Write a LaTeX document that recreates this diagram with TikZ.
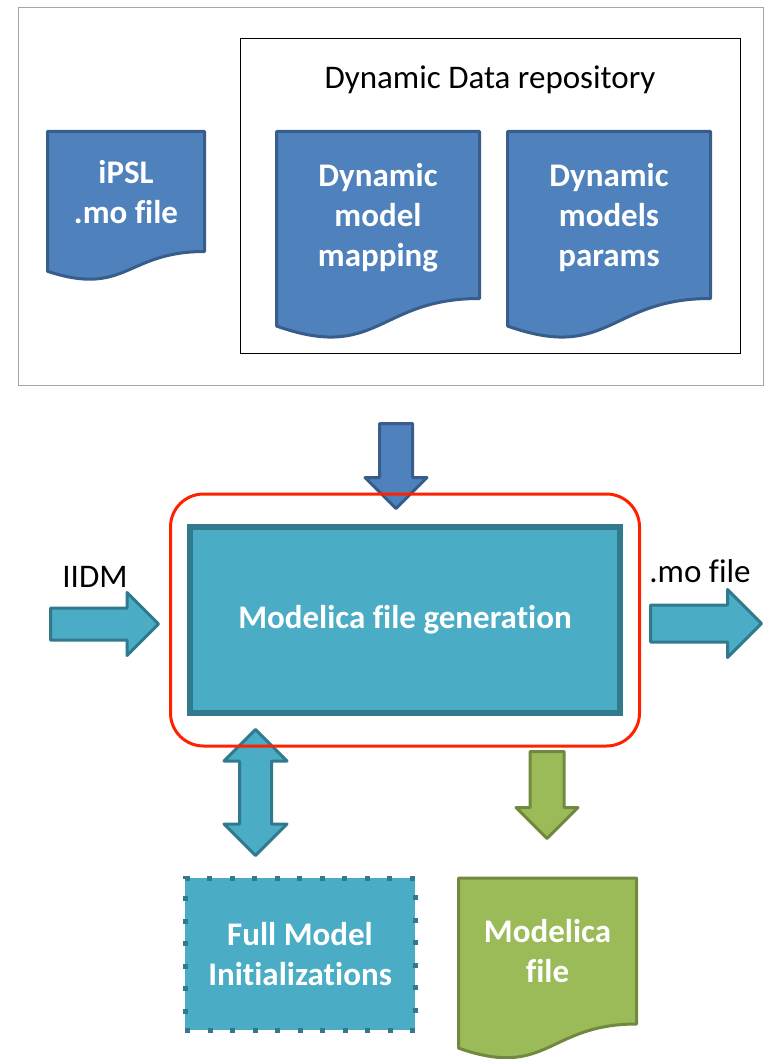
\documentclass[tikz,border=0pt]{standalone}
\usepackage{fontspec}
\setmainfont[Ligatures=NoCommon]{Carlito}
\usetikzlibrary{shapes.arrows,positioning,calc,fit,backgrounds}
\definecolor{DocBlue}{HTML}{4F81BD}
\definecolor{DocBlueDark}{HTML}{385D8A}
\definecolor{GenTeal}{HTML}{4BACC6}
\definecolor{GenTealDark}{HTML}{31798D}
\definecolor{OutGreen}{HTML}{9BBB59}
\definecolor{OutGreenDark}{HTML}{71893F}
\definecolor{FrameRed}{HTML}{FF2200}
\definecolor{FrameGray}{HTML}{A6A6A6}

% wavy bottom of a document shape, drawn round a node
\newcommand{\docoutline}[2]{%
  \draw[#2] (#1.north west) -- (#1.north east) -- (#1.south east)
    .. controls (#1.south) and ($(#1.south)!-0.38!(#1.north)$)
    .. ($(#1.south west)!-0.165!(#1.north west)$) -- cycle;}

\begin{document}
\begin{tikzpicture}[x=1pt, y=-1pt,
    txt/.style={font=\fontsize{33}{40}\selectfont, align=center, inner sep=0pt},
    doc/.style={rectangle, inner sep=0pt, outer sep=0pt, text depth=0pt, align=center, text=white, font=\fontsize{33}{40}\selectfont\bfseries},
    bluedoc/.style={fill=DocBlue, draw=DocBlueDark, line width=3pt, line join=round},
    greendoc/.style={fill=OutGreen, draw=OutGreenDark, line width=3pt, line join=round},
    genbox/.style={rectangle, draw=GenTealDark, fill=GenTeal, line width=6pt, outer sep=0pt, align=center, text=white, font=\fontsize{33}{40}\selectfont\bfseries},
    initbox/.style={rectangle, draw=GenTealDark, fill=GenTeal, line width=5pt, dash pattern=on 5pt off 17.5pt, outer sep=0pt, align=center, text=white, font=\fontsize{33}{40}\selectfont\bfseries},
    fatarrow/.style={single arrow, anchor=tail, inner xsep=0pt, outer sep=0pt, line width=3pt, line join=round},
    fatdarrow/.style={double arrow, inner xsep=0pt, outer sep=0pt, line width=3pt, line join=round},
    bluearrow/.style={fill=DocBlue, draw=DocBlueDark},
    tealarrow/.style={fill=GenTeal, draw=GenTealDark},
    greenarrow/.style={fill=OutGreen, draw=OutGreenDark},
    redframe/.style={rectangle, draw=FrameRed, line width=3pt, rounded corners=33pt}
  ]
    \useasboundingbox (0,0) rectangle (767,1059);

    % input files
    \node[draw=FrameGray, line width=1.5pt, outer sep=0pt, minimum width=745, minimum height=378] (inputs) at (391,196.5) {};
    \node[draw=black, line width=1.5pt, outer sep=0pt, minimum width=500, minimum height=315] (repo) at (490.5,196) {};
    \node[txt] (repotitle) at (490,80) {Dynamic Data repository};
    \node[doc, minimum width=157, minimum height=120] (ipsl) at (126,191.5) {iPSL\\.mo file};
    \node[doc, minimum width=203, minimum height=167] (mapping) at (378,215) {Dynamic\\model\\mapping};
    \node[doc, minimum width=203, minimum height=167, right=28pt of mapping] (params) {Dynamic\\models\\params};
    \begin{scope}[on background layer]
      \docoutline{ipsl}{bluedoc}
      \docoutline{mapping}{bluedoc}
      \docoutline{params}{bluedoc}
    \end{scope}

    % generation step
    \node[genbox, minimum width=430, minimum height=186] (gen) at (405,620) {Modelica file generation};
    \node[fatarrow, bluearrow, rotate=-90, inner ysep=15pt, single arrow head extend=14.5pt, minimum width=59, minimum height=85] (repoarrow) at (396,423.5) {};
    \node[fatarrow, tealarrow, inner ysep=14.5pt, single arrow head extend=15.5pt, minimum width=60, minimum height=108] (iidmarrow) at (50.5,624) {};
    \node[fatarrow, tealarrow, inner ysep=17pt, single arrow head extend=15.5pt, minimum width=65, minimum height=111] (moarrow) at (650.5,623.5) {};
    \node[txt] (iidm) at (95,577) {IIDM};
    \node[txt] (mo) at (700,571) {.mo file};

    % outputs
    \node[fatdarrow, tealarrow, rotate=90, inner ysep=14.5pt, double arrow head extend=15.5pt, minimum width=60, minimum height=126] (initarrow) at (255.5,792.5) {};
    \node[fatarrow, greenarrow, rotate=-90, inner ysep=15.5pt, single arrow head extend=14pt, minimum width=59, minimum height=87] (outarrow) at (547,751.5) {};
    \node[initbox, minimum width=230, minimum height=152] (init) at (300,954) {Full Model\\Initializations};
    \node[doc, minimum width=178, minimum height=146] (modfile) at (547.5,951) {Modelica\\file};
    \begin{scope}[on background layer]
      \docoutline{modfile}{greendoc}
    \end{scope}

    \node[redframe, fit=(gen), inner xsep=19.5pt, inner ysep=33pt] (focus) {};
  \end{tikzpicture}
\end{document}
